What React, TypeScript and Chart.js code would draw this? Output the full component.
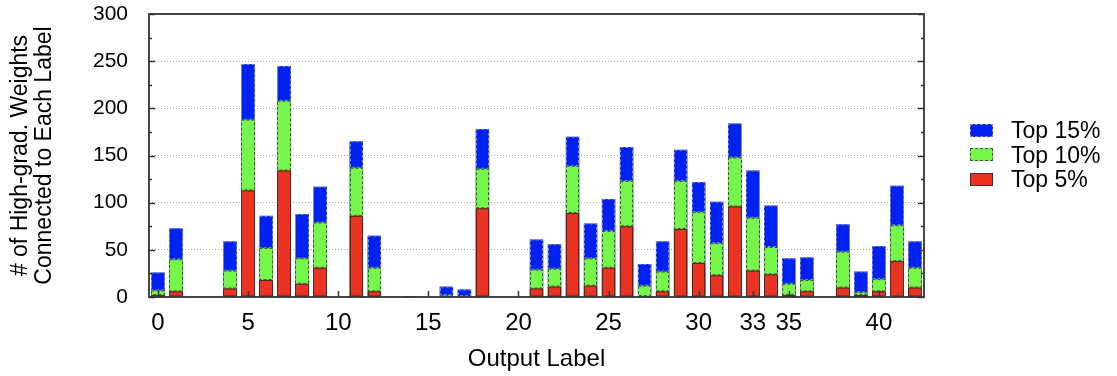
import React, { useEffect, useRef } from "react";
import { Chart, registerables } from "chart.js";

Chart.register(...registerables);

// Output labels 0..42
const categories: string[] = Array.from({ length: 43 }, (_, i) => String(i));
const shownTickLabels: string[] = ["0", "5", "10", "15", "20", "25", "30", "33", "35", "40"];

// Cumulative counts of high-gradient weights connected to each label
const top5: number[] = [2, 6, 0, 0, 9, 113, 18, 134, 14, 31, 0, 86, 6, 0, 0, 0, 0, 0, 94, 0, 0, 9, 11, 89, 12, 31, 75, 1, 6, 72, 36, 23, 96, 28, 24, 2, 6, 0, 10, 2, 6, 38, 10];
const top10: number[] = [7, 40, 0, 0, 28, 188, 52, 208, 41, 79, 0, 137, 31, 0, 0, 0, 2, 1, 136, 0, 0, 29, 30, 139, 41, 70, 123, 12, 27, 123, 90, 57, 148, 84, 53, 14, 18, 0, 48, 5, 19, 76, 31];
const top15: number[] = [26, 73, 0, 0, 59, 247, 86, 245, 88, 117, 0, 165, 65, 0, 1, 0, 11, 8, 178, 0, 0, 61, 56, 170, 78, 104, 159, 35, 59, 156, 122, 101, 184, 134, 97, 41, 42, 0, 77, 27, 54, 118, 59];

const seriesNames: string[] = ["Top 5%", "Top 10%", "Top 15%"];
const yTicks: number[] = [0, 50, 100, 150, 200, 250, 300];

const COLORS = ["#ea3323", "#76f54a", "#0022f0"];
const EDGE = ["#4a2a26", "#3b5a33", "#7c86b8"];
const DASHED = [false, true, true];
const FONT = "'Liberation Sans', Arial, Helvetica, sans-serif";

const barEdges = {
  id: "barEdges",
  afterDatasetsDraw(chart: any) {
    const ctx = chart.ctx;
    const metas = [0, 1, 2].map((i) => chart.getDatasetMeta(i));
    ctx.save();
    ctx.lineWidth = 1;
    for (let d = 2; d >= 0; d--) {
      const meta = metas[d];
      meta.data.forEach((bar: any, idx: number) => {
        const p = bar.getProps(["x", "y", "base", "width"], true);
        let bottom = p.base;
        if (d > 0) {
          const lower = metas[d - 1].data[idx].getProps(["y"], true);
          bottom = lower.y;
        }
        if (bottom - p.y < 0.8) return;
        ctx.strokeStyle = EDGE[d];
        ctx.setLineDash(DASHED[d] ? [3, 2] : []);
        const l = Math.round(p.x - p.width / 2) + 0.5;
        const r = Math.round(p.x + p.width / 2) - 0.5;
        ctx.strokeRect(l, p.y + 0.5, r - l, bottom - p.y - 1);
      });
    }
    ctx.restore();
  },
};

const frame = {
  id: "frame",
  afterDraw(chart: any) {
    const { ctx, chartArea: a, scales } = chart;
    ctx.save();
    ctx.strokeStyle = "#333";
    ctx.lineWidth = 1.5;
    ctx.setLineDash([]);
    ctx.beginPath();
    // y ticks (major every 50, minor every 25), inward, both sides
    for (let v = 0; v <= 300; v += 25) {
      const y = Math.round(scales.y.getPixelForValue(v)) + 0.5;
      const len = v % 50 === 0 ? 6 : 3;
      ctx.moveTo(a.left, y);
      ctx.lineTo(a.left + len, y);
      ctx.moveTo(a.right, y);
      ctx.lineTo(a.right - len, y);
    }
    // x ticks at labelled categories, inward from bottom
    shownTickLabels.forEach((lab) => {
      const idx = categories.indexOf(lab);
      const x = Math.round(scales.x.getPixelForValue(idx)) + 0.5;
      ctx.moveTo(x, a.bottom);
      ctx.lineTo(x, a.bottom - 6);
    });
    ctx.stroke();
    ctx.lineWidth = 1.8;
    ctx.strokeRect(a.left, a.top, a.right - a.left, a.bottom - a.top);
    ctx.restore();
  },
};

export default function App() {
  const ref = useRef<HTMLCanvasElement | null>(null);

  useEffect(() => {
    document.body.style.margin = "0";
    if (!ref.current) return;
    const data = [top5, top10, top15];
    const chart = new Chart(ref.current, {
      type: "bar",
      data: {
        labels: categories,
        datasets: data.map((vals, i) => ({
          label: seriesNames[i],
          data: vals,
          backgroundColor: COLORS[i],
          borderWidth: 0,
          barPercentage: 0.75,
          categoryPercentage: 1,
          grouped: false,
          order: i,
        })),
      },
      options: {
        responsive: false,
        animation: false,
        layout: { padding: { top: 14, right: 193, left: 0, bottom: 0 } },
        plugins: {
          legend: { display: false },
          tooltip: { enabled: false },
        },
        scales: {
          x: {
            type: "category",
            stacked: false,
            offset: true,
            grid: { display: false, drawTicks: false },
            border: { display: false },
            ticks: {
              autoSkip: false,
              maxRotation: 0,
              minRotation: 0,
              padding: 12,
              color: "#000",
              font: { family: FONT, size: 24 },
              callback: (_v: any, i: number) =>
                shownTickLabels.includes(categories[i]) ? categories[i] : "",
            },
            title: {
              display: true,
              text: "Output Label",
              color: "#000",
              font: { family: FONT, size: 24, lineHeight: 1.2 },
              padding: { top: 0, bottom: 2 },
            },
            afterFit: (s: any) => {
              s.height = 79;
              s.paddingLeft = 0;
              s.paddingRight = 0;
            },
          },
          y: {
            stacked: false,
            min: 0,
            max: 300,
            afterBuildTicks: (s: any) => {
              s.ticks = yTicks.map((v) => ({ value: v }));
            },
            grid: {
              drawTicks: false,
              lineWidth: 1,
              color: (c: any) =>
                c.tick && (c.tick.value === 0 || c.tick.value === 300) ? "rgba(0,0,0,0)" : "#a8a8a8",
            },
            border: { display: false, dash: [1, 2] },
            ticks: {
              padding: 21,
              color: "#000",
              font: { family: FONT, size: 21 },
            },
            title: {
              display: true,
              text: ["# of High-grad. Weights", "Connected to Each Label"],
              color: "#000",
              font: { family: FONT, size: 23, lineHeight: 1.04 },
              padding: { top: 9, bottom: 0 },
            },
            afterFit: (s: any) => {
              s.width = 149;
              s.paddingTop = 0;
              s.paddingBottom = 0;
            },
          },
        },
      },
      plugins: [barEdges, frame],
    });
    return () => chart.destroy();
  }, []);

  const legendItems = [2, 1, 0];
  return (
    <div style={{ position: "relative", width: 1117, height: 376, background: "#fff" }}>
      <canvas ref={ref} width={1117} height={376} style={{ display: "block" }} />
      <div style={{ position: "absolute", left: 970, top: 118, fontFamily: FONT }}>
        {legendItems.map((d) => (
          <div key={d} style={{ display: "flex", alignItems: "center", height: 24.6 }}>
            <div
              style={{
                width: 21,
                height: 11,
                background: COLORS[d],
                border: `1px ${DASHED[d] ? "dashed" : "solid"} ${EDGE[d]}`,
                marginRight: 18,
              }}
            />
            <span style={{ fontSize: 23, color: "#000", lineHeight: "24px" }}>{seriesNames[d]}</span>
          </div>
        ))}
      </div>
    </div>
  );
}
